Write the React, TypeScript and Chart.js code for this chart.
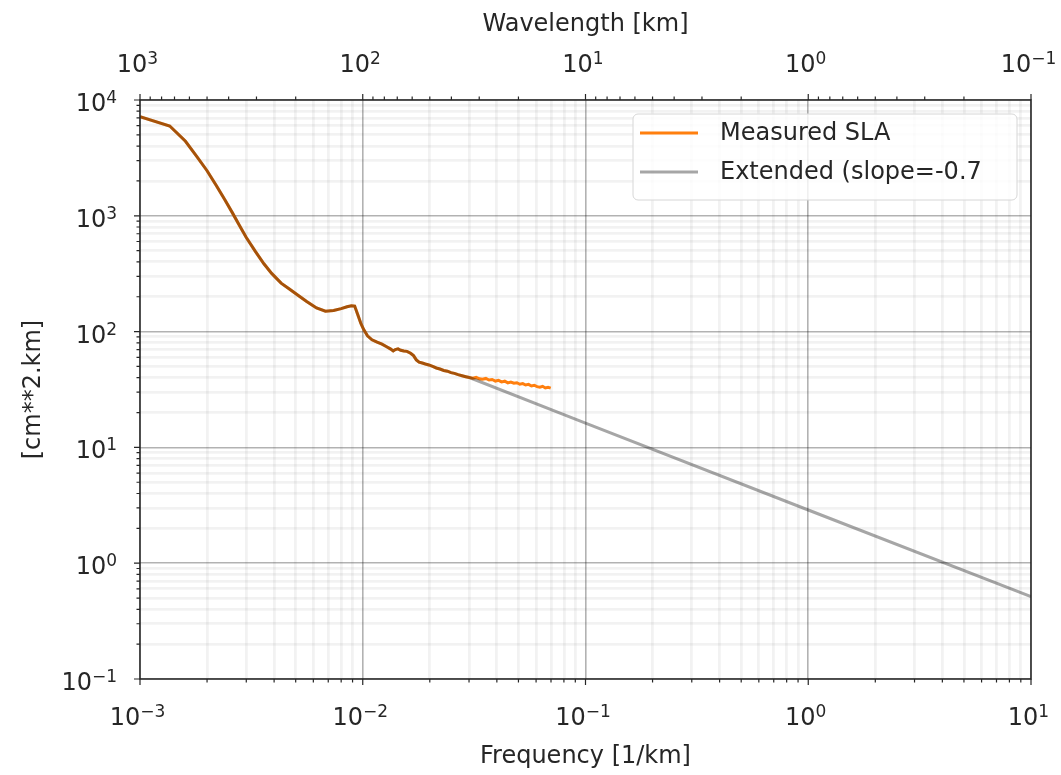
import { useEffect, useRef } from 'react';
import { Chart, registerables } from 'chart.js';

Chart.register(...registerables);

// Measured sea level anomaly spectrum: frequency [1/km] and power [cm**2.km]
const measuredFreq = [
  0.001, 0.00136, 0.0016, 0.0018, 0.002, 0.0022, 0.0024, 0.0026, 0.0028, 0.003,
  0.0033, 0.0036, 0.0039, 0.0043, 0.0047, 0.0051, 0.0056, 0.0062, 0.0068, 0.0074,
  0.008, 0.0085, 0.0089, 0.0092, 0.0095, 0.0098, 0.0101, 0.0105, 0.011, 0.0116,
  0.0122, 0.0128, 0.0133, 0.0137, 0.014, 0.0144, 0.0148, 0.0153, 0.0158, 0.0164,
  0.0169, 0.0174, 0.0179, 0.0185, 0.0191, 0.0198, 0.0206, 0.0214, 0.0222, 0.0231,
  0.024, 0.0249, 0.0258, 0.0268, 0.0279, 0.029, 0.0301, 0.0312, 0.0323, 0.0334,
  0.0345, 0.0357, 0.0369, 0.0381, 0.0394, 0.0407, 0.042, 0.0434, 0.0448, 0.0462,
  0.0477, 0.0492, 0.0507, 0.0523, 0.0539, 0.0555, 0.0572, 0.0589, 0.0606, 0.0624,
  0.0642, 0.066, 0.0679, 0.0698,
];
const measuredSLA = [
  7180, 5960, 4400, 3250, 2450, 1830, 1380, 1060, 820, 650,
  490, 385, 318, 262, 232, 207, 182, 160, 150, 152,
  158, 164, 167, 166, 140, 118, 104, 92, 85, 81,
  78, 74, 71, 68, 70, 71, 69, 68, 67.5, 65,
  62, 57, 54.5, 53.5, 52.5, 51.5, 50, 48.5, 47.5, 46.2,
  45.5, 44.2, 43.6, 42.5, 41.6, 40.8, 40.1, 39.6, 40.2, 39.1,
  38.8, 39.4, 38.2, 38.6, 37.4, 37.9, 36.8, 37.3, 36.1, 36.7,
  35.8, 36.2, 35.1, 35.6, 34.6, 35, 33.9, 34.4, 33.5, 33.1,
  33.7, 32.6, 33.1, 32.5,
];

// Power-law continuation beyond the last trusted frequency
const extensionStart = 0.0301;
const extendedFreq = [0.1, 1, 10];
const extendedSLA = [16.2, 2.88, 0.514];

// Axis decades (exponents)
const freqDecades = [-3, -2, -1, 0, 1];
const wavelengthDecades = [-1, 0, 1, 2, 3];
const powerDecades = [-1, 0, 1, 2, 3, 4];

const legendLabels = ['Measured SLA', 'Extended (slope=-0.7'];
const titles = { x: 'Frequency [1/km]', x2: 'Wavelength [km]', y: '[cm**2.km]' };

const FONT = "'DejaVu Sans', sans-serif";
const ORANGE = '#ff7f0e';
const GREY = 'rgba(0,0,0,0.35)';
const TEXT = '#262626';

const isMajor = (v: number) => {
  const l = Math.log10(v);
  return Math.abs(l - Math.round(l)) < 1e-6;
};
const exponentOf = (v: number) => Math.round(Math.log10(v));

// 1..9 x 10^k for every decade, plus the closing power of ten
const logTicks = (decades: number[]) => {
  const out: number[] = [];
  for (let i = 0; i < decades.length - 1; i++) {
    for (let n = 1; n <= 9; n++) out.push(n * Math.pow(10, decades[i]));
  }
  out.push(Math.pow(10, decades[decades.length - 1]));
  return out;
};

const freqTicks = logTicks(freqDecades);
const powerTicks = logTicks(powerDecades);
const wavelengthTicks = logTicks(wavelengthDecades).map((w) => 1 / w);

const gridColor = (ctx: any) =>
  ctx.tick && isMajor(ctx.tick.value) ? 'rgba(0,0,0,0.3)' : 'rgba(0,0,0,0.05)';
const gridWidth = (ctx: any) => (ctx.tick && isMajor(ctx.tick.value) ? 1.6 : 2.8);

// "10" with a raised, smaller exponent
const BASE_SIZE = 24;
const EXP_SIZE = 17;
const EXP_RISE = 8;
function powerLabelWidth(ctx: CanvasRenderingContext2D, k: number) {
  ctx.font = `${BASE_SIZE}px ${FONT}`;
  const w1 = ctx.measureText('10').width;
  ctx.font = `${EXP_SIZE}px ${FONT}`;
  const w2 = ctx.measureText(String(k).replace('-', '\u2212')).width;
  return { w1, w2, total: w1 + w2 };
}
function drawPowerLabel(ctx: CanvasRenderingContext2D, k: number, left: number, baseline: number) {
  const { w1 } = powerLabelWidth(ctx, k);
  ctx.textAlign = 'left';
  ctx.textBaseline = 'alphabetic';
  ctx.fillStyle = TEXT;
  ctx.font = `${BASE_SIZE}px ${FONT}`;
  ctx.fillText('10', left, baseline);
  ctx.font = `${EXP_SIZE}px ${FONT}`;
  ctx.fillText(String(k).replace('-', '\u2212'), left + w1, baseline - EXP_RISE);
}

const decorations = {
  id: 'decorations',
  afterDatasetsDraw(chart: any) {
    const { ctx, chartArea: a } = chart;
    const sx = chart.scales.x;
    const sy = chart.scales.y;
    const sx2 = chart.scales.x2;
    ctx.save();

    // tick marks
    ctx.strokeStyle = TEXT;
    ctx.lineWidth = 1.2;
    ctx.beginPath();
    for (const t of sx.ticks) {
      const p = sx.getPixelForValue(t.value);
      const len = isMajor(t.value) ? 6 : 3.5;
      ctx.moveTo(p, a.bottom);
      ctx.lineTo(p, a.bottom + len);
    }
    for (const t of sx2.ticks) {
      const p = sx2.getPixelForValue(t.value);
      const len = isMajor(t.value) ? 6 : 3.5;
      ctx.moveTo(p, a.top);
      ctx.lineTo(p, a.top - len);
    }
    for (const t of sy.ticks) {
      const p = sy.getPixelForValue(t.value);
      const len = isMajor(t.value) ? 6 : 3.5;
      ctx.moveTo(a.left, p);
      ctx.lineTo(a.left - len, p);
    }
    ctx.stroke();

    // axes frame
    ctx.lineWidth = 1.5;
    ctx.strokeRect(a.left, a.top, a.right - a.left, a.bottom - a.top);

    // tick labels at the powers of ten
    for (const t of sx.ticks) {
      if (!isMajor(t.value)) continue;
      const k = exponentOf(t.value);
      const p = sx.getPixelForValue(t.value);
      const { total } = powerLabelWidth(ctx, k);
      drawPowerLabel(ctx, k, p - 2.5 - total / 2, a.bottom + 46);
    }
    for (const t of sx2.ticks) {
      const w = 1 / t.value;
      if (!isMajor(w)) continue;
      const k = exponentOf(w);
      const p = sx2.getPixelForValue(t.value);
      const { total } = powerLabelWidth(ctx, k);
      drawPowerLabel(ctx, k, p - 2.5 - total / 2, a.top - 28);
    }
    for (const t of sy.ticks) {
      if (!isMajor(t.value)) continue;
      const k = exponentOf(t.value);
      const p = sy.getPixelForValue(t.value);
      const { total } = powerLabelWidth(ctx, k);
      drawPowerLabel(ctx, k, a.left - 23 - total, p + 11);
    }

    // legend
    const lx = a.right - 398;
    const ly = a.top + 14;
    const lw = 384;
    const lh = 86;
    ctx.beginPath();
    ctx.roundRect(lx, ly, lw, lh, 5);
    ctx.fillStyle = 'rgba(255,255,255,0.8)';
    ctx.fill();
    ctx.strokeStyle = '#d6d6d6';
    ctx.lineWidth = 1;
    ctx.stroke();

    const colors = [ORANGE, GREY];
    const rows = [ly + 19, ly + 58];
    ctx.font = `24px ${FONT}`;
    ctx.textBaseline = 'middle';
    ctx.textAlign = 'left';
    rows.forEach((ry, i) => {
      ctx.beginPath();
      ctx.strokeStyle = colors[i];
      ctx.lineWidth = 3;
      ctx.moveTo(lx + 7, ry);
      ctx.lineTo(lx + 65, ry);
      ctx.stroke();
      ctx.fillStyle = TEXT;
      ctx.fillText(legendLabels[i], lx + 87, ry + 1);
    });

    ctx.restore();
  },
};

const noEdgePadding = (s: any) => {
  s.paddingLeft = 0;
  s.paddingRight = 0;
  s.paddingTop = 0;
  s.paddingBottom = 0;
};

export default function App() {
  const canvasRef = useRef<HTMLCanvasElement | null>(null);

  useEffect(() => {
    const canvas = canvasRef.current;
    if (!canvas) return;

    const measured = measuredFreq.map((f, i) => ({ x: f, y: measuredSLA[i] }));
    const extended = [
      ...measured.filter((p) => p.x <= extensionStart),
      ...extendedFreq.map((f, i) => ({ x: f, y: extendedSLA[i] })),
    ];

    const titleFont = { family: FONT, size: 24 };

    const chart = new Chart(canvas, {
      type: 'line',
      data: {
        datasets: [
          {
            label: legendLabels[0],
            data: measured,
            borderColor: ORANGE,
            borderWidth: 3,
            pointRadius: 0,
            tension: 0,
            order: 1,
            xAxisID: 'x',
            yAxisID: 'y',
          },
          {
            label: legendLabels[1],
            data: extended,
            borderColor: GREY,
            borderWidth: 3,
            pointRadius: 0,
            tension: 0,
            order: 0,
            xAxisID: 'x',
            yAxisID: 'y',
          },
        ],
      },
      options: {
        animation: false,
        responsive: false,
        devicePixelRatio: 1,
        parsing: false as any,
        layout: { padding: { left: 0, right: 30, top: 0, bottom: 0 } },
        plugins: { legend: { display: false }, tooltip: { enabled: false } },
        scales: {
          x: {
            type: 'logarithmic',
            position: 'bottom',
            min: 1e-3,
            max: 10,
            afterBuildTicks: (s: any) => {
              s.ticks = freqTicks.map((v) => ({ value: v }));
            },
            afterFit: (s: any) => {
              s.height = 96;
              noEdgePadding(s);
            },
            ticks: { display: false, autoSkip: false },
            grid: { color: gridColor, lineWidth: gridWidth, drawTicks: false },
            border: { display: false },
            title: {
              display: true,
              text: titles.x,
              color: TEXT,
              font: titleFont,
              padding: { top: 0, bottom: 4 },
            },
          },
          x2: {
            type: 'logarithmic',
            position: 'top',
            min: 1e-3,
            max: 10,
            afterBuildTicks: (s: any) => {
              s.ticks = wavelengthTicks.map((v) => ({ value: v }));
            },
            afterFit: (s: any) => {
              s.height = 100;
              noEdgePadding(s);
            },
            ticks: { display: false, autoSkip: false },
            grid: { display: false, drawTicks: false },
            border: { display: false },
            title: {
              display: true,
              text: titles.x2,
              color: TEXT,
              font: titleFont,
              padding: { top: 10, bottom: 0 },
            },
          },
          y: {
            type: 'logarithmic',
            position: 'left',
            min: 0.1,
            max: 1e4,
            afterBuildTicks: (s: any) => {
              s.ticks = powerTicks.map((v) => ({ value: v }));
            },
            afterFit: (s: any) => {
              s.width = 140;
              noEdgePadding(s);
            },
            ticks: { display: false, autoSkip: false },
            grid: { color: gridColor, lineWidth: gridWidth, drawTicks: false },
            border: { display: false },
            title: {
              display: true,
              text: titles.y,
              color: TEXT,
              font: titleFont,
              padding: { top: 19, bottom: 0 },
            },
          },
        },
      } as any,
      plugins: [decorations],
    });

    return () => chart.destroy();
  }, []);

  return (
    <div style={{ position: 'fixed', left: 0, top: 0, width: 1061, height: 775, background: '#fff' }}>
      <canvas ref={canvasRef} width={1061} height={775} />
    </div>
  );
}
